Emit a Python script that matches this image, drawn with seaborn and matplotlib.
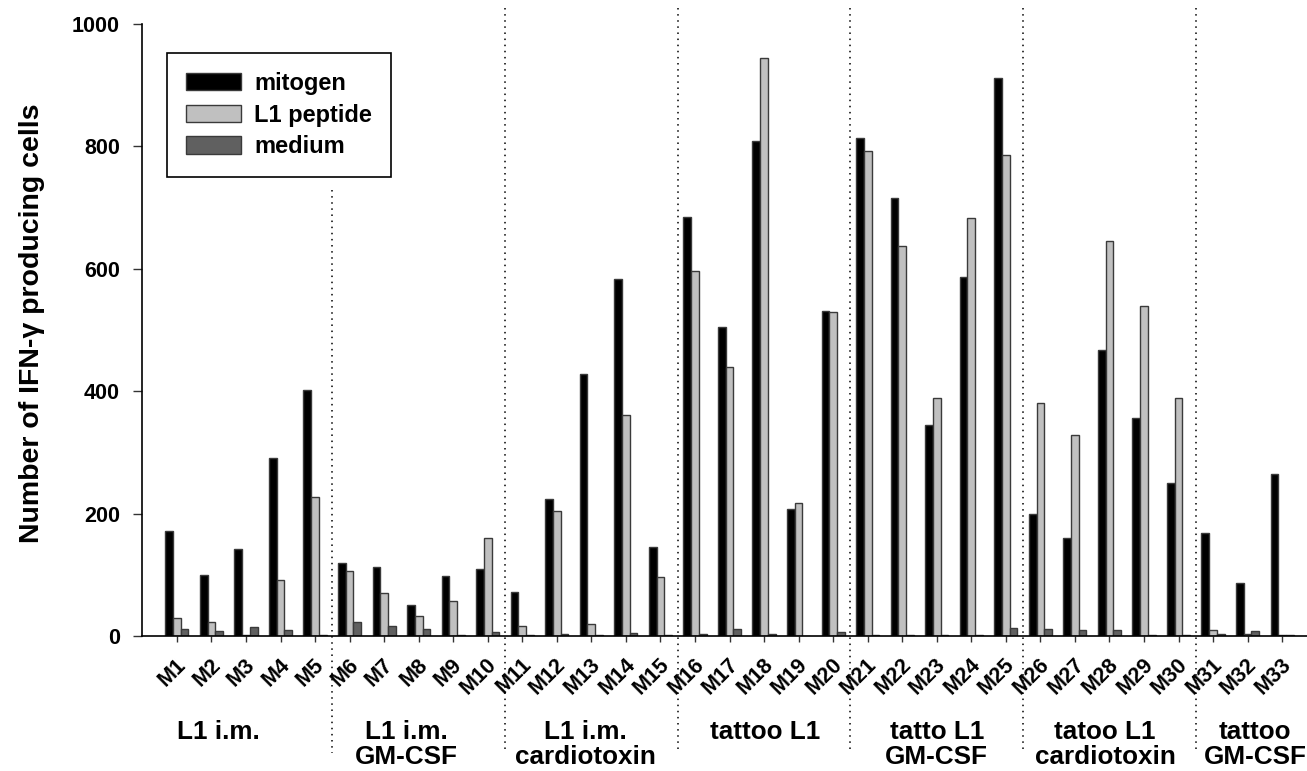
import numpy as np
import pandas as pd
import matplotlib
matplotlib.use('Agg')
import matplotlib.pyplot as plt
import matplotlib.transforms as mtransforms
import seaborn as sns

# values
mice = ['M1', 'M2', 'M3', 'M4', 'M5', 'M6', 'M7', 'M8', 'M9', 'M10',
        'M11', 'M12', 'M13', 'M14', 'M15', 'M16', 'M17', 'M18', 'M19', 'M20',
        'M21', 'M22', 'M23', 'M24', 'M25', 'M26', 'M27', 'M28', 'M29', 'M30',
        'M31', 'M32', 'M33']
mitogen = [172, 100, 142, 291, 402, 119, 113, 51, 98, 110,
           72, 224, 428, 584, 146, 684, 505, 809, 207, 531,
           814, 715, 344, 586, 912, 200, 160, 468, 357, 250,
           169, 86, 265]
l1_peptide = [30, 23, 2, 91, 227, 107, 70, 33, 57, 160,
              16, 204, 20, 361, 97, 596, 439, 944, 218, 529,
              792, 637, 389, 683, 786, 381, 329, 645, 540, 389,
              9, 3, 1]
medium = [11, 8, 15, 10, 2, 23, 17, 11, 2, 6,
          2, 3, 1, 5, 2, 3, 12, 4, 0, 7,
          1, 1, 1, 1, 13, 11, 10, 10, 2, 1,
          4, 8, 2]
stimuli = ['mitogen', 'L1 peptide', 'medium']
colors = ['#000000', '#c0c0c0', '#606060']

groups = ['L1 i.m.', 'L1 i.m.\nGM-CSF', 'L1 i.m.\ncardiotoxin', 'tattoo L1',
          'tatto L1\nGM-CSF', 'tatoo L1\ncardiotoxin', 'tattoo\nGM-CSF']
group_label_x = [1.19, 6.63, 11.82, 17.03, 22.0, 26.87, 31.22]
separators = [4.5, 9.5, 14.5, 19.5, 24.5, 29.5]

df = pd.DataFrame({
    'mouse': mice * 3,
    'count': mitogen + l1_peptide + medium,
    'stim': [s for s in stimuli for _ in mice],
})

sns.set_style('ticks')
plt.rcParams['font.family'] = ['Liberation Sans', 'DejaVu Sans']
plt.rcParams['font.weight'] = 'bold'
plt.rcParams['text.color'] = 'black'
plt.rcParams['axes.labelcolor'] = 'black'
plt.rcParams['xtick.color'] = 'black'
plt.rcParams['ytick.color'] = 'black'

fig = plt.figure(figsize=(13.07, 7.71), dpi=100)
W, H = 1307, 771
ax = fig.add_axes([142 / W, (H - 636) / H, (W - 142) / W, (636 - 24) / H])

sns.barplot(data=df, x='mouse', y='count', hue='stim', order=mice,
            hue_order=stimuli, palette=colors, width=0.67,
            edgecolor='#3a3a3a', linewidth=1, ax=ax)

ax.set_xlim(-1.01, 32.72)
ax.set_ylim(0, 1000)
ax.set_yticks([0, 200, 400, 600, 800, 1000])
sns.despine(ax=ax)
for side in ['left', 'bottom']:
    ax.spines[side].set_linewidth(1.2)
    ax.spines[side].set_color('black')

ax.tick_params(axis='y', length=6.5, width=1, color='#333333', labelcolor='black',
               pad=9.4, labelsize=15.5)
ax.tick_params(axis='x', length=4.5, width=1, color='#333333', labelcolor='black',
               pad=14, labelsize=15.5)
ax.set_xlabel('')
ax.set_ylabel('Number of IFN-γ producing cells', fontsize=20.5, fontweight='bold',
              color='black')
ax.yaxis.set_label_coords(-0.083, 0.511)

offset = mtransforms.ScaledTranslation(6 / 100, 0, fig.dpi_scale_trans)
for lbl in ax.get_xticklabels():
    lbl.set_rotation(45)
    lbl.set_ha('right')
    lbl.set_va('center')
    lbl.set_rotation_mode('anchor')
    lbl.set_fontweight('bold')
    lbl.set_transform(lbl.get_transform() + offset)
for lbl in ax.get_yticklabels():
    lbl.set_fontweight('bold')

# dotted group separators
trans = mtransforms.blended_transform_factory(ax.transData, ax.transAxes)
for i, x in enumerate(separators):
    top = 0.729 if i == 0 else 1.026
    ax.plot([x, x], [top, -0.191], transform=trans, clip_on=False,
            color='black', lw=1.1, linestyle=(0, (1, 3)))

# group labels under the tick labels
label_trans = mtransforms.blended_transform_factory(ax.transData, fig.transFigure)
for x, g in zip(group_label_x, groups):
    ax.text(x, (H - 720) / H, g, transform=label_trans, color='black',
            ha='center', va='top', fontsize=18.8, fontweight='bold', linespacing=1.07)

handles, labels = ax.get_legend_handles_labels()
leg = ax.legend(handles, labels, loc='upper left', bbox_to_anchor=(0.0215, 0.9526),
                borderaxespad=0, frameon=True, fancybox=False, edgecolor='black',
                framealpha=1, prop={'size': 17, 'weight': 'bold'},
                handlelength=2.33, handleheight=0.76, handletextpad=0.55,
                labelspacing=0.37, borderpad=0.8)
leg.get_frame().set_linewidth(1.2)
for t in leg.get_texts():
    t.set_color('black')

fig.savefig('out.png', dpi=100)
